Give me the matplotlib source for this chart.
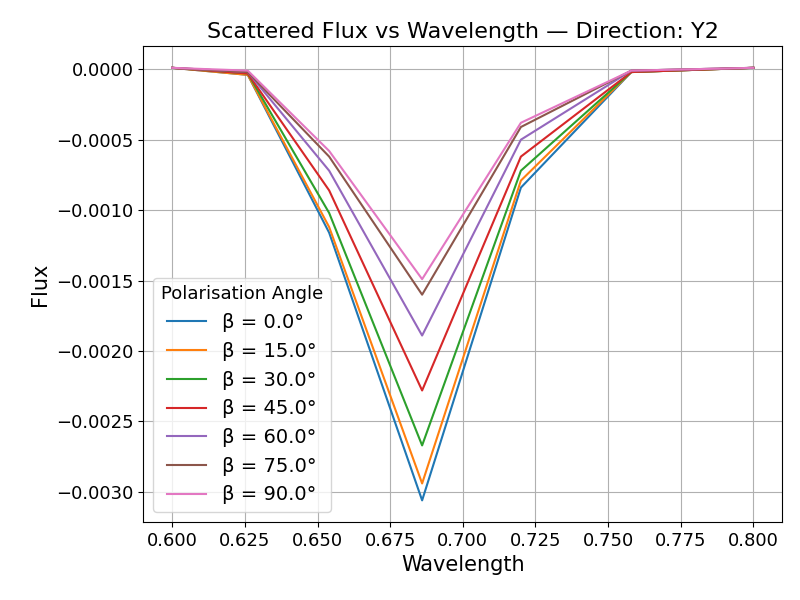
import matplotlib
matplotlib.use("Agg")
import matplotlib.pyplot as plt

wavelength = [0.600, 0.626, 0.654, 0.686, 0.720, 0.758, 0.800]
betas = [0.0, 15.0, 30.0, 45.0, 60.0, 75.0, 90.0]
flux = [
    [0.00001, -0.00004, -0.00116, -0.00306, -0.00084, -0.00002, 0.00001],
    [0.00001, -0.00004, -0.00112, -0.00294, -0.00079, -0.00002, 0.00001],
    [0.00001, -0.00003, -0.00102, -0.00267, -0.00072, -0.00002, 0.00001],
    [0.00001, -0.00003, -0.00086, -0.00228, -0.00062, -0.00002, 0.00001],
    [0.00001, -0.00002, -0.00072, -0.00189, -0.00050, -0.00001, 0.00001],
    [0.00001, -0.00002, -0.00062, -0.00160, -0.00041, -0.00001, 0.00001],
    [0.00001, -0.00001, -0.00058, -0.00149, -0.00038, -0.00001, 0.00001],
]

fig, ax = plt.subplots(figsize=(8, 6), dpi=100)
for b, f in zip(betas, flux):
    ax.plot(wavelength, f, label=f"β = {b}°")

ax.set_title("Scattered Flux vs Wavelength — Direction: Y2", fontsize=16)
ax.set_xlabel("Wavelength", fontsize=15)
ax.set_ylabel("Flux", fontsize=15)
ax.tick_params(labelsize=13)
ax.grid(True)
ax.legend(title="Polarisation Angle", fontsize=14, title_fontsize=13, loc="lower left")
fig.subplots_adjust(left=0.179, right=0.978, top=0.923, bottom=0.13)
plt.savefig("out.png")
